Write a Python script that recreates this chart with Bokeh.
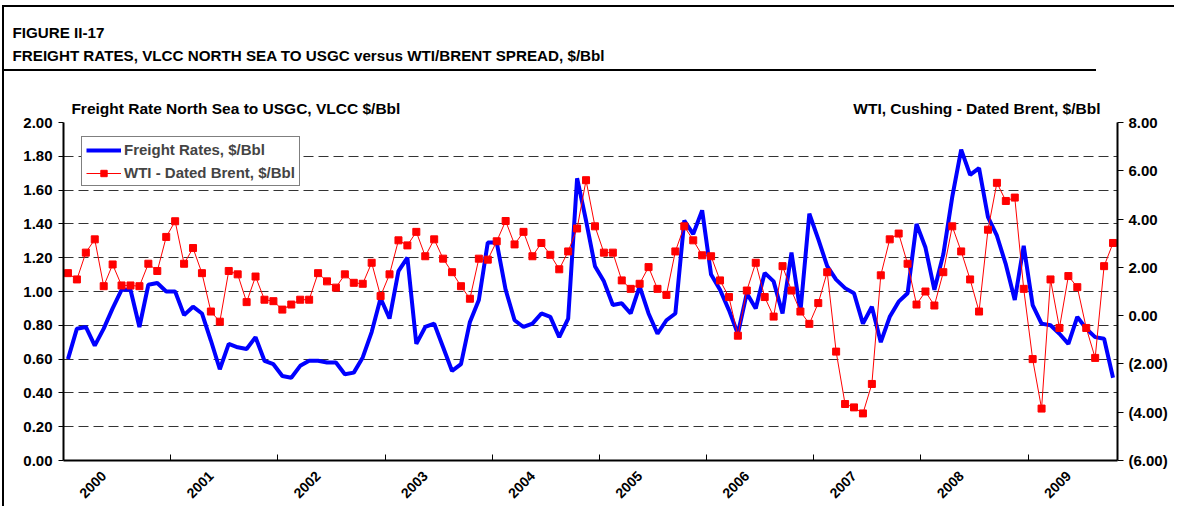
import math
from bokeh.plotting import figure
from bokeh.models import (LinearAxis, Range1d, FixedTicker, Legend, LegendItem,
                          Title, Grid, NumeralTickFormatter)
from bokeh.embed import file_html
from bokeh.resources import INLINE

# ---------------- data ----------------
years = [str(y) for y in range(2000, 2010)]
n_months = 118  # Jan 2000 .. Oct 2009

freight = [
    0.60, 0.78, 0.79, 0.68, 0.78, 0.90, 1.01, 1.01, 0.79, 1.04, 1.05, 1.00,
    1.00, 0.86, 0.91, 0.87, 0.71, 0.54, 0.69, 0.67, 0.66, 0.73, 0.59, 0.57,
    0.50, 0.49, 0.56, 0.59, 0.59, 0.58, 0.58, 0.51, 0.52, 0.61, 0.76, 0.96,
    0.84, 1.12, 1.20, 0.69, 0.79, 0.81, 0.67, 0.53, 0.57, 0.82, 0.95, 1.29,
    1.29, 1.01, 0.83, 0.79, 0.81, 0.87, 0.85, 0.73, 0.84, 1.67, 1.42, 1.15,
    1.06, 0.92, 0.93, 0.87, 1.03, 0.87, 0.75, 0.83, 0.87, 1.42, 1.34, 1.48,
    1.10, 1.01, 0.89, 0.75, 0.99, 0.90, 1.11, 1.06, 0.87, 1.23, 0.88, 1.46,
    1.31, 1.15, 1.07, 1.02, 0.99, 0.81, 0.91, 0.70, 0.85, 0.94, 0.99, 1.40,
    1.26, 1.01, 1.22, 1.56, 1.84, 1.69, 1.73, 1.44, 1.33, 1.16, 0.95, 1.27,
    0.92, 0.81, 0.80, 0.75, 0.69, 0.85, 0.78, 0.73, 0.72, 0.49,
]

spread = [
    1.76, 1.50, 2.61, 3.16, 1.22, 2.12, 1.25, 1.25, 1.22, 2.15, 1.85, 3.26,
    3.91, 2.15, 2.80, 1.76, 0.17, -0.25, 1.85, 1.71, 0.56, 1.62, 0.66, 0.60,
    0.25, 0.46, 0.66, 0.66, 1.76, 1.42, 1.16, 1.71, 1.36, 1.32, 2.19, 0.81,
    1.71, 3.12, 2.91, 3.47, 2.46, 3.16, 2.36, 1.80, 1.22, 0.70, 2.36, 2.32,
    3.08, 3.92, 2.95, 3.47, 2.46, 3.01, 2.52, 1.92, 2.66, 3.61, 5.61, 3.70,
    2.61, 2.61, 1.46, 1.11, 1.32, 2.01, 1.11, 0.86, 2.66, 3.70, 3.12, 2.50,
    2.46, 1.46, 0.77, -0.83, 1.04, 2.19, 0.77, -0.04, 2.05, 1.04, 0.17, -0.34,
    0.52, 1.80, -1.49, -3.66, -3.80, -4.05, -2.83, 1.67, 3.16, 3.40, 2.15, 0.46,
    1.00, 0.42, 1.80, 3.70, 2.66, 1.50, 0.17, 3.56, 5.50, 4.75, 4.89, 1.11,
    -1.80, -3.85, 1.50, -0.51, 1.64, 1.18, -0.51, -1.75, 2.05, 3.01,
]

left_ticks = [0.0, 0.2, 0.4, 0.6, 0.8, 1.0, 1.2, 1.4, 1.6, 1.8, 2.0]
right_ticks = [-6, -4, -2, 0, 2, 4, 6, 8]

title1 = "FIGURE II-17"
title2 = "FREIGHT RATES,  VLCC NORTH SEA TO USGC versus WTI/BRENT SPREAD, $/Bbl"
left_title = "Freight Rate North Sea to USGC, VLCC $/Bbl"
right_title = "WTI, Cushing -  Dated Brent, $/Bbl"
series_names = ["Freight Rates, $/Bbl", "WTI - Dated Brent, $/Bbl"]

# ---------------- figure ----------------
FONT = "Liberation Sans"
x = [i + 0.5 for i in range(n_months)]

p = figure(width=1174, height=506, x_range=Range1d(0, n_months), y_range=Range1d(0, 2),
           output_backend="svg", toolbar_location=None,
           x_axis_type=None, y_axis_type=None,
           min_border_left=63, min_border_right=57, min_border_top=122, min_border_bottom=46)
p.outline_line_color = None
p.background_fill_color = "white"
p.border_fill_color = None
p.extra_y_ranges = {"right": Range1d(-6, 8)}
# decorative page rules (outer frame + rule under the heading)
p.styles = {
    "background-color": "white",
    "background-image": "linear-gradient(#000,#000), linear-gradient(#000,#000), linear-gradient(#000,#000)",
    "background-size": "1172px 2px, 2px 501px, 1093px 2px",
    "background-position": "2px 5px, 2px 5px, 3px 69px",
    "background-repeat": "no-repeat",
}


def style_axis(ax, size="15px"):
    ax.major_label_text_font = FONT
    ax.major_label_text_font_style = "bold"
    ax.major_label_text_font_size = size
    ax.major_label_text_color = "black"
    ax.axis_line_color = "black"
    ax.axis_line_width = 2
    ax.major_tick_line_color = "black"
    ax.minor_tick_line_color = None
    ax.minor_tick_in = 0
    ax.minor_tick_out = 0


# left axis
ly = LinearAxis(ticker=FixedTicker(ticks=left_ticks, minor_ticks=[]),
                formatter=NumeralTickFormatter(format="0.00"))
style_axis(ly)
ly.major_tick_out = 5
ly.major_tick_in = 0
ly.major_label_standoff = 6
p.add_layout(ly, "left")

# right axis
ry = LinearAxis(y_range_name="right", ticker=FixedTicker(ticks=right_ticks, minor_ticks=[]),
                major_label_overrides={t: (f"{t:.2f}" if t >= 0 else f"({-t:.2f})") for t in right_ticks})
style_axis(ry)
ry.major_tick_out = 6
ry.major_tick_in = 0
ry.major_label_standoff = 5
p.add_layout(ry, "right")

# bottom axis: year boundary ticks (no labels)
bounds = [12 * k for k in range(1, len(years))]
bx = LinearAxis(ticker=FixedTicker(ticks=bounds, minor_ticks=[]),
                major_label_overrides={b: "" for b in bounds})
style_axis(bx)
bx.major_tick_in = 6
bx.major_tick_out = 0
bx.major_label_standoff = 0
p.add_layout(bx, "below")

# bottom axis: year labels
label_pos = [12 * k + 4.5 for k in range(len(years))]
bl = LinearAxis(ticker=FixedTicker(ticks=label_pos, minor_ticks=[]),
                major_label_overrides={pos: yr for pos, yr in zip(label_pos, years)})
style_axis(bl, "14px")
bl.axis_line_color = None
bl.major_tick_line_color = None
bl.major_tick_in = 0
bl.major_tick_out = 0
bl.major_label_standoff = 13
bl.major_label_orientation = math.pi / 4
p.add_layout(bl, "below")

# top: axis titles row (as labels of an invisible axis)
title_pos = [19.3, 102.5]
ta = LinearAxis(ticker=FixedTicker(ticks=title_pos, minor_ticks=[]),
                major_label_overrides={title_pos[0]: left_title, title_pos[1]: right_title})
style_axis(ta, "15.5px")
ta.axis_line_color = None
ta.major_tick_line_color = None
ta.major_tick_in = 0
ta.major_tick_out = 0
ta.major_label_standoff = 6
p.add_layout(ta, "above")

# spacer between heading and axis titles
sp = LinearAxis(ticker=FixedTicker(ticks=[1], minor_ticks=[]),
                major_label_overrides={1: ""})
style_axis(sp)
sp.axis_line_color = None
sp.major_tick_line_color = None
sp.major_tick_in = 0
sp.major_tick_out = 30
sp.major_label_standoff = 0
p.add_layout(sp, "above")

# heading
p.add_layout(Title(text=title2, align="left", offset=-51, standoff=6,
                   text_font=FONT, text_font_style="bold", text_font_size="15.2px",
                   text_color="black"), "above")
p.add_layout(Title(text=title1, align="left", offset=-51, standoff=2,
                   text_font=FONT, text_font_style="bold", text_font_size="15.2px",
                   text_color="black"), "above")

# grid
g = Grid(dimension=1, ticker=FixedTicker(ticks=left_ticks[1:]))
g.grid_line_color = "#333333"
g.grid_line_dash = "10 5"
g.grid_line_width = 1
p.add_layout(g)

# series
blue = p.line(x, freight, line_color="#0000FF", line_width=4)
red_l = p.line(x, spread, y_range_name="right", line_color="#FF0000", line_width=1)
red_m = p.scatter(x, spread, y_range_name="right", marker="square", size=7,
                  fill_color="#FF0000", line_color="#FF0000")

legend = Legend(items=[LegendItem(label=series_names[0], renderers=[blue]),
                       LegendItem(label=series_names[1], renderers=[red_l, red_m])],
                location=(18, 274))
legend.border_line_color = "black"
legend.border_line_width = 1
legend.background_fill_color = "white"
legend.background_fill_alpha = 1
legend.label_text_font = FONT
legend.label_text_font_style = "bold"
legend.label_text_font_size = "15px"
legend.glyph_width = 35
legend.glyph_height = 16
legend.label_standoff = 3
legend.padding = 4
legend.spacing = 6
legend.margin = 0
p.add_layout(legend)

open("out.html", "w").write(file_html(p, INLINE))
